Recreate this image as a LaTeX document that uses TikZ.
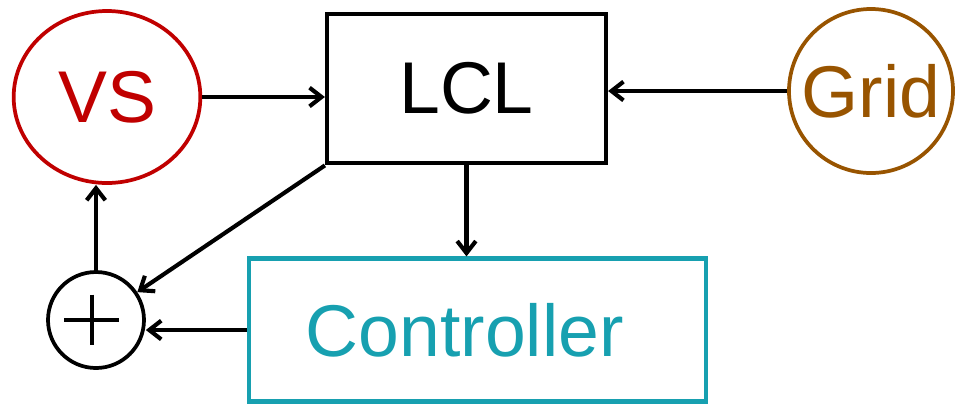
\documentclass[tikz,border=0pt]{standalone}
\usepackage{fontspec}
\setmainfont{Liberation Sans}
\usetikzlibrary{arrows.meta,shapes.geometric}
\definecolor{vsred}{HTML}{C00000}
\definecolor{gridbrown}{HTML}{985400}
\definecolor{ctrlteal}{HTML}{17A0B0}

\begin{document}
\begin{tikzpicture}[
  x=0.75pt,y=-0.75pt,
  big/.style={font=\fontsize{55}{60}\selectfont},
  src/.style={ellipse,draw,line width=2.8pt,inner sep=0pt,big},
  blk/.style={draw,line width=3.4pt,inner sep=0pt,big},
  sum/.style={circle,draw,line width=2.8pt,minimum size=72pt,inner sep=0pt,
    path picture={
      \draw[line width=2.6pt] ([xshift=-24pt]path picture bounding box.center) -- ([xshift=17pt]path picture bounding box.center);
      \draw[line width=2.6pt] ([xshift=-3pt,yshift=19pt]path picture bounding box.center) -- ([xshift=-3pt,yshift=-19pt]path picture bounding box.center);
    }},
  arr/.style={-{Straight Barb[length=9pt,width=14pt]},line width=3.1pt}
]
\useasboundingbox (0,0) rectangle (957,405);

% sources, filter and controller
\node[src,draw=vsred,text=vsred,minimum width=140pt,minimum height=129pt] (vs) at (107,97) {\makebox[0pt]{VS}};
\node[blk,minimum width=209pt,minimum height=112pt] (lcl) at (466.5,88.5) {LCL};
\node[src,draw=gridbrown,text=gridbrown,minimum width=123pt,minimum height=123pt] (grid) at (871,91) {\makebox[0pt]{Grid}};
\node[blk,draw=ctrlteal,text=ctrlteal,minimum width=343pt,minimum height=107pt] (ctrl) at (477.5,330) {Controller\hspace*{19pt}};
\node[sum] (sum) at (96,320) {};

% signal flow
\draw[arr] (vs.east) -- (vs.east -| lcl.west);
\draw[arr] (grid.west) -- (grid.west -| lcl.east);
\draw[arr] (lcl.south) -- (lcl.south |- ctrl.north);
\draw[arr] (lcl.south west) -- (sum);
\draw[arr] (ctrl.west) -- (ctrl.west -| sum.east);
\draw[arr] (sum.north) -- (sum.north |- vs.south);
\end{tikzpicture}
\end{document}
